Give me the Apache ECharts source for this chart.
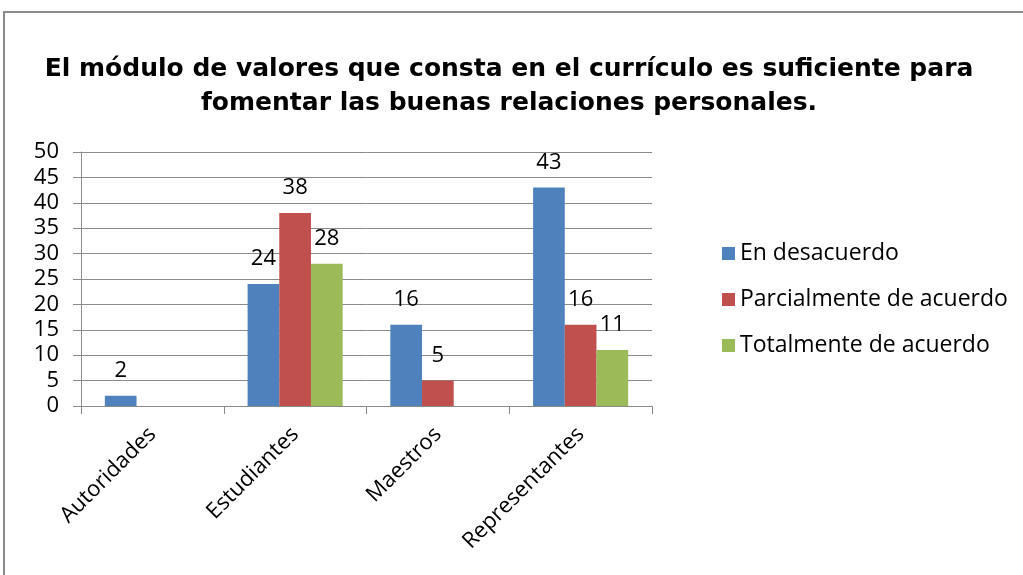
<!DOCTYPE html>
<html>
<head>
<meta charset="utf-8">
<script src="https://cdn.jsdelivr.net/npm/echarts@6/dist/echarts.min.js"></script>
<style>
  html, body { margin: 0; padding: 0; background: #fff; }
  #main { width: 1023px; height: 575px; }
</style>
</head>
<body>
<div id="main"></div>
<script>
  // datos
  var grupos = ['Autoridades', 'Estudiantes', 'Maestros', 'Representantes'];
  var enDesacuerdo = [2, 24, 16, 43];
  var parcialmente = [0, 38, 5, 16];
  var totalmente = [0, 28, 0, 11];
  var nombres = ['En desacuerdo', 'Parcialmente de acuerdo', 'Totalmente de acuerdo'];
  var colores = ['#4F81BD', '#C0504D', '#9BBB59'];

  var fuente = '"Open Sans", Lato, sans-serif';

  function serie(nombre, datos, color) {
    return {
      name: nombre,
      type: 'bar',
      data: datos,
      barGap: '0%',
      barCategoryGap: '33.4%',
      itemStyle: { color: color },
      label: {
        show: true,
        position: 'top',
        distance: 14,
        color: '#000',
        fontFamily: fuente,
        fontSize: 22,
        formatter: function (p) { return p.value === 0 ? '' : p.value; } // los ceros no llevan etiqueta
      }
    };
  }

  var myChart = echarts.init(document.getElementById('main'));
  myChart.setOption({
    animation: false,
    backgroundColor: '#fff',
    title: {
      text: 'El módulo de valores que consta en el currículo es suficiente para\nfomentar las buenas relaciones personales.',
      left: 504,
      top: 47,
      textAlign: 'center',
      textStyle: {
        fontFamily: '"DejaVu Sans", sans-serif',
        fontWeight: 'bold',
        fontSize: 25,
        lineHeight: 34,
        color: '#000'
      }
    },
    graphic: [{
      type: 'rect',
      shape: { x: 4, y: 12, width: 1040, height: 600 },
      style: { fill: 'none', stroke: '#8a8a8a', lineWidth: 2 }
    }],
    legend: {
      data: nombres,
      orient: 'vertical',
      left: 717,
      top: 237,
      itemWidth: 13,
      itemHeight: 13,
      itemGap: 23,
      icon: 'rect',
      textStyle: { fontFamily: fuente, fontSize: 23, color: '#000' }
    },
    grid: { left: 81, right: 371, top: 152, bottom: 169 },
    xAxis: {
      type: 'category',
      data: grupos,
      axisLine: { lineStyle: { color: '#8a8a8a', width: 1 } },
      axisTick: { show: true, length: 8, lineStyle: { color: '#8a8a8a' } },
      axisLabel: {
        rotate: 45,
        margin: 25,
        color: '#000',
        fontFamily: fuente,
        fontSize: 22
      }
    },
    yAxis: {
      type: 'value',
      min: 0,
      max: 50,
      interval: 5,
      axisLine: { show: true, lineStyle: { color: '#8a8a8a', width: 1 } },
      axisTick: { show: true, length: 8, lineStyle: { color: '#8a8a8a' } },
      axisLabel: {
        margin: 22,
        color: '#000',
        fontFamily: fuente,
        fontSize: 22
      },
      splitLine: { show: true, lineStyle: { color: '#8a8a8a', width: 1 } }
    },
    series: [
      serie(nombres[0], enDesacuerdo, colores[0]),
      serie(nombres[1], parcialmente, colores[1]),
      serie(nombres[2], totalmente, colores[2])
    ]
  });
</script>
</body>
</html>
